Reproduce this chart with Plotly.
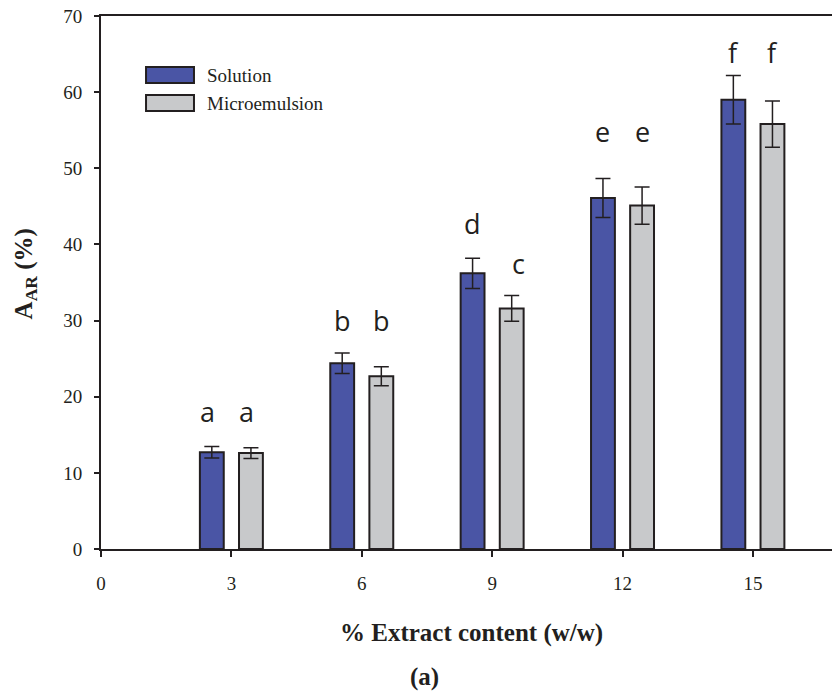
import plotly.graph_objects as go

# ---- data ----
extract = [3, 6, 9, 12, 15]
x_ticks = [0, 3, 6, 9, 12, 15]
solution = [12.7, 24.4, 36.2, 46.1, 59.0]
solution_err = [0.75, 1.35, 2.0, 2.55, 3.2]
micro = [12.6, 22.7, 31.6, 45.1, 55.8]
micro_err = [0.7, 1.25, 1.7, 2.45, 3.05]
sol_letters = ["a", "b", "d", "e", "f"]
mic_letters = ["a", "b", "c", "e", "f"]
sol_letter_y = [18.0, 30.0, 42.7, 54.8, 65.2]
mic_letter_y = [18.0, 30.0, 37.5, 54.8, 65.2]
series_names = ["Solution", "Microemulsion"]

BLUE = "#4A55A5"
GRAY = "#C8C9CB"
DARK = "#231F20"

fig = go.Figure()
fig.add_trace(go.Bar(
    x=extract, y=solution, name=series_names[0],
    marker=dict(color=BLUE, line=dict(color=DARK, width=2)),
    error_y=dict(type="data", array=solution_err, color=DARK, thickness=1.5, width=7.5),
    showlegend=False,
))
fig.add_trace(go.Bar(
    x=extract, y=micro, name=series_names[1],
    marker=dict(color=GRAY, line=dict(color=DARK, width=2)),
    error_y=dict(type="data", array=micro_err, color=DARK, thickness=1.5, width=7.5),
    showlegend=False,
))

serif = "Liberation Serif, Times New Roman, serif"
sans = "Open Sans, Noto Sans, sans-serif"

annotations = []
for xi, lab, ly in zip(extract, sol_letters, sol_letter_y):
    annotations.append(dict(x=xi - 0.45, y=ly, xref="x", yref="y", text=lab,
                            xanchor="center", yanchor="middle",
                            showarrow=False, font=dict(family=sans, size=27, color=DARK),
                            xshift=-4 if lab == "a" else 0))
for xi, lab, ly in zip(extract, mic_letters, mic_letter_y):
    annotations.append(dict(x=xi + 0.45, y=ly, xref="x", yref="y", text=lab,
                            xanchor="center", yanchor="middle",
                            showarrow=False, font=dict(family=sans, size=27, color=DARK),
                            xshift={"a": -4, "c": 7}.get(lab, 0)))

# axis titles and panel label
annotations.append(dict(x=0.507, y=-0.158, xref="paper", yref="paper",
                        xanchor="center", yanchor="middle",
                        text="<b>% Extract content (w/w)</b>", showarrow=False,
                        font=dict(family=serif, size=25, color=DARK)))
annotations.append(dict(x=0.443, y=-0.241, xref="paper", yref="paper",
                        xanchor="center", yanchor="middle",
                        text="<b>(a)</b>", showarrow=False,
                        font=dict(family=serif, size=25, color=DARK)))
annotations.append(dict(x=-0.104, y=0.517, xref="paper", yref="paper",
                        xanchor="center", yanchor="middle",
                        text="<b>A<sub>AR</sub> (%)</b>", showarrow=False, textangle=-90,
                        font=dict(family=serif, size=25, color=DARK)))

# manual legend
shapes = []
leg_colors = [BLUE, GRAY]
leg_y = [(0.9042, 0.8742), (0.8516, 0.8216)]
for name, col, (y1, y0) in zip(series_names, leg_colors, leg_y):
    shapes.append(dict(type="rect", xref="paper", yref="paper",
                       x0=0.0616, x1=0.1272, y0=y0, y1=y1,
                       fillcolor=col, line=dict(color=DARK, width=2)))
    annotations.append(dict(x=0.1423, y=(y0 + y1) / 2, xref="paper", yref="paper",
                            text=name, showarrow=False, xanchor="left", yanchor="middle",
                            font=dict(family=serif, size=19, color=DARK)))

fig.update_layout(
    width=832, height=691,
    margin=dict(l=101, r=0, t=16, b=142),
    plot_bgcolor="white", paper_bgcolor="white",
    barmode="group", bargap=0.4, bargroupgap=0.39,
    annotations=annotations, shapes=shapes,
    xaxis=dict(range=[0, 16.82], tickmode="array", tickvals=x_ticks,
               ticktext=[str(v) for v in x_ticks],
               showgrid=False, zeroline=False, showline=True, linecolor=DARK, linewidth=2,
               mirror=True, ticks="outside", ticklen=6, tickwidth=1.5, tickcolor=DARK,
               ticklabelstandoff=10,
               tickfont=dict(family=serif, size=19, color=DARK)),
    yaxis=dict(range=[0, 70], tickvals=[0, 10, 20, 30, 40, 50, 60, 70],
               showgrid=False, zeroline=False, showline=True, linecolor=DARK, linewidth=2,
               ticks="outside", ticklen=5, tickwidth=1.5, tickcolor=DARK,
               ticklabelstandoff=8,
               tickfont=dict(family=serif, size=19, color=DARK)),
)

fig.write_html("out.html")
